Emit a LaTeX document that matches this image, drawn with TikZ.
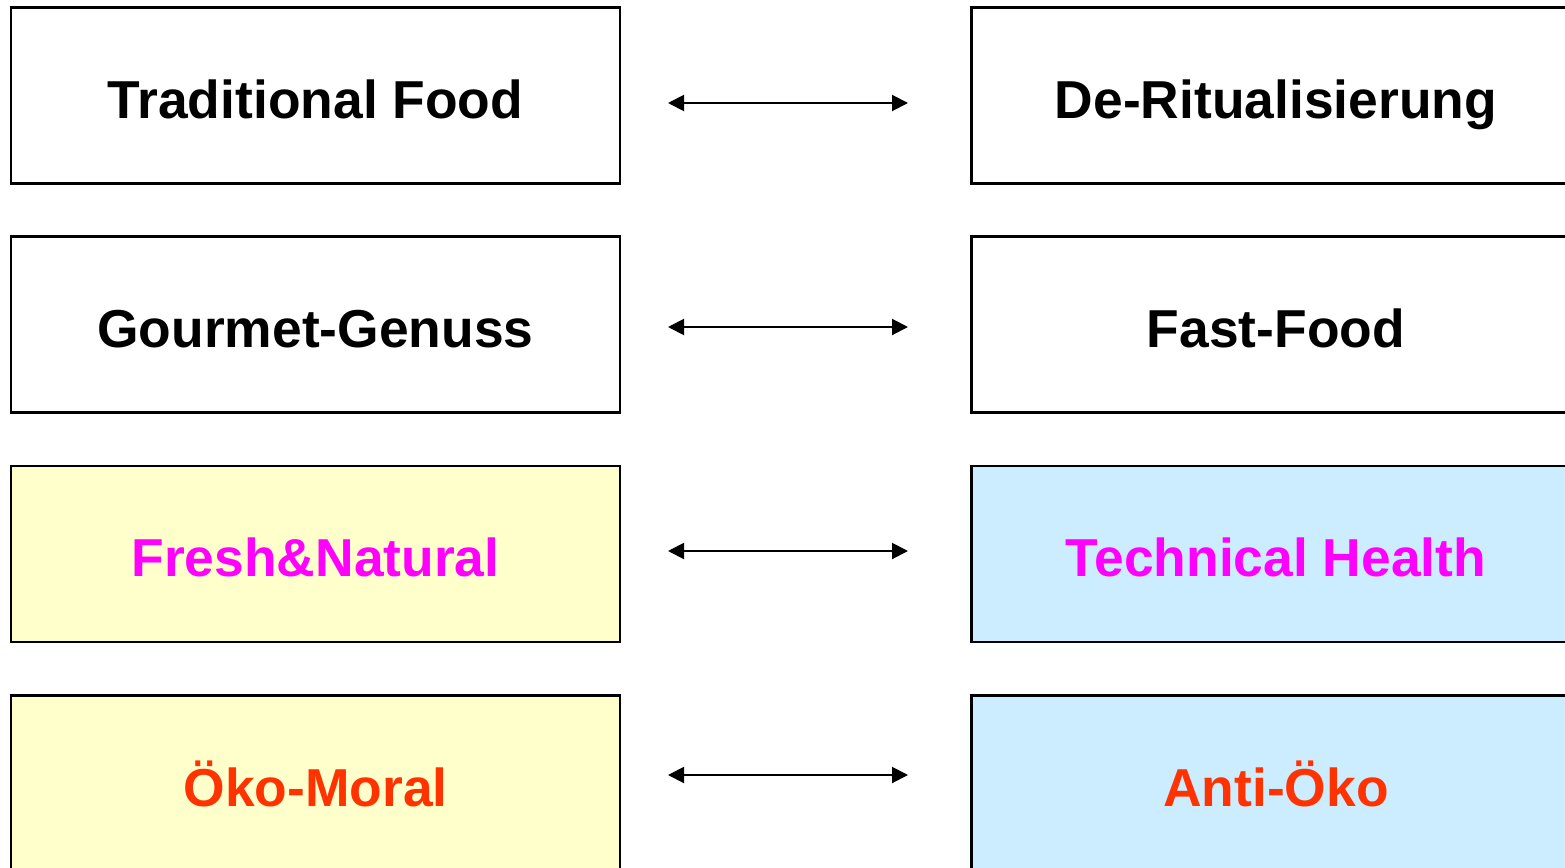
\documentclass[tikz,border=0pt]{standalone}
\usepackage{fontspec}
\setmainfont{Liberation Sans}
\usetikzlibrary{arrows.meta}
\definecolor{paleyellow}{HTML}{FFFFCC}
\definecolor{paleblue}{HTML}{CCECFF}
\definecolor{labelmagenta}{HTML}{FF00FF}
\definecolor{labelred}{HTML}{FF3300}
\begin{document}
\begin{tikzpicture}[x=1pt,y=1pt,
  trendbox/.style={draw=black, line width=2.5pt, minimum width=609pt, minimum height=176pt,
    inner sep=0pt, text height=45pt, text depth=0pt,
    font=\fontsize{53.4}{58}\selectfont\bfseries},
  yellowbox/.style={trendbox, fill=paleyellow},
  bluebox/.style={trendbox, fill=paleblue},
  pairarrow/.style={line width=2pt, {Triangle[length=16pt,width=16pt]}-{Triangle[length=16pt,width=16pt]}}
]
\useasboundingbox (0,0) rectangle (1565,-867);
\clip (0,0) rectangle (1565,-867);

% left column
\node[trendbox]  (tf) at (315.5,-95.5)  {Traditional Food};
\node[trendbox]  (gg) at (315.5,-324.5) {Gourmet-Genuss};
\node[yellowbox, text=labelmagenta] (fn) at (315.5,-554) {Fresh\&Natural};
\node[yellowbox, text=labelred]     (om) at (315.5,-783.5) {Öko-Moral};

% right column
\node[trendbox]  (dr) at (1276,-95.5)  {De-Ritualisierung};
\node[trendbox]  (ff) at (1276,-324.5) {Fast-Food};
\node[bluebox, text=labelmagenta] (th) at (1276,-554) {Technical Health};
\node[bluebox, text=labelred]     (ao) at (1276,-783.5) {Anti-Öko};

% arrow ends
\coordinate (a1l) at (668,-103);  \coordinate (a1r) at (908,-103);
\coordinate (a2l) at (668,-327);  \coordinate (a2r) at (908,-327);
\coordinate (a3l) at (668,-551);  \coordinate (a3r) at (908,-551);
\coordinate (a4l) at (668,-775);  \coordinate (a4r) at (908,-775);

\draw[pairarrow] (a1l) -- (a1r);
\draw[pairarrow] (a2l) -- (a2r);
\draw[pairarrow] (a3l) -- (a3r);
\draw[pairarrow] (a4l) -- (a4r);
\end{tikzpicture}
\end{document}
